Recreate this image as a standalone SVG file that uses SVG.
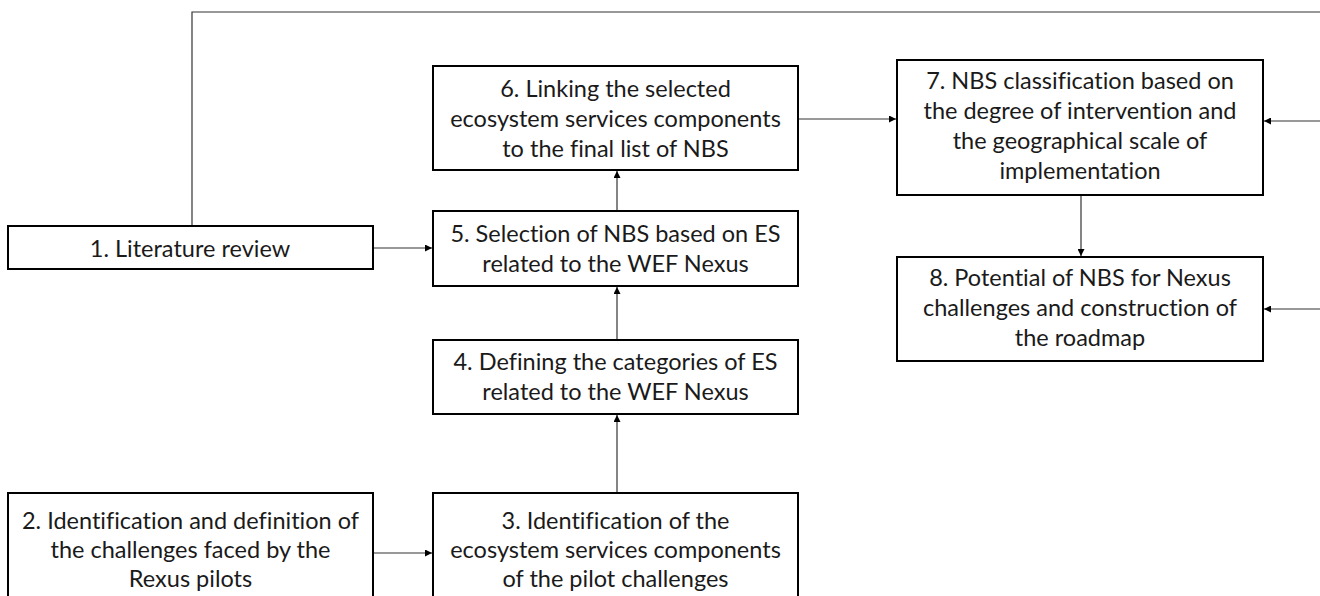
<svg xmlns="http://www.w3.org/2000/svg" width="1320" height="596" viewBox="0 0 1320 596">
  <defs>
    <marker id="arrow" viewBox="0 0 10 10" refX="10" refY="5" markerWidth="8" markerHeight="7" markerUnits="userSpaceOnUse" orient="auto">
      <path d="M0,0 L10,5 L0,10 z" fill="#000"/>
    </marker>
  </defs>
  <style>
    .box { fill: #fff; stroke: #000; stroke-width: 2; }
    .lbl { font-family: Lato, "Liberation Sans", sans-serif; font-size: 23.5px; fill: #1a1a1a; text-anchor: middle; font-variant-ligatures: none; font-feature-settings: "liga" 0; }
    .edge { fill: none; stroke: #333; stroke-width: 1.2; }
    .arr { marker-end: url(#arrow); }
  </style>
  <rect width="1320" height="596" fill="#fff"/>

  <g id="connectors">
    <!-- feedback line from the literature review along the top -->
    <path class="edge" d="M192,226 V12 H1320"/>
    <path class="edge arr" d="M373,248 H432"/>
    <path class="edge arr" d="M373,553 H432"/>
    <path class="edge arr" d="M617,493 V415"/>
    <path class="edge arr" d="M617,340 V287"/>
    <path class="edge arr" d="M617,211 V171"/>
    <path class="edge arr" d="M798,119 H896"/>
    <path class="edge arr" d="M1081,195 V256"/>
    <path class="edge arr" d="M1320,121 H1264"/>
    <path class="edge arr" d="M1320,309 H1264"/>
  </g>

  <g id="node1">
    <rect class="box" x="8" y="226" width="365" height="43"/>
    <text class="lbl" x="190" y="257">1. Literature review</text>
  </g>

  <g id="node2">
    <rect class="box" x="8" y="493" width="365" height="110"/>
    <text class="lbl" x="190.5" y="529">2. Identification and definition of</text>
    <text class="lbl" x="190.5" y="558">the challenges faced by the</text>
    <text class="lbl" x="190.5" y="587">Rexus pilots</text>
  </g>

  <g id="node3">
    <rect class="box" x="433" y="493" width="365" height="110"/>
    <text class="lbl" x="615.5" y="529">3. Identification of the</text>
    <text class="lbl" x="615.5" y="558">ecosystem services components</text>
    <text class="lbl" x="615.5" y="587">of the pilot challenges</text>
  </g>

  <g id="node4">
    <rect class="box" x="433" y="340" width="365" height="74"/>
    <text class="lbl" x="615.5" y="370">4. Defining the categories of ES</text>
    <text class="lbl" x="615.5" y="400">related to the WEF Nexus</text>
  </g>

  <g id="node5">
    <rect class="box" x="433" y="211" width="365" height="75"/>
    <text class="lbl" x="615.5" y="242">5. Selection of NBS based on ES</text>
    <text class="lbl" x="615.5" y="272">related to the WEF Nexus</text>
  </g>

  <g id="node6">
    <rect class="box" x="433" y="66" width="365" height="104"/>
    <text class="lbl" x="615.5" y="97">6. Linking the selected</text>
    <text class="lbl" x="615.5" y="127">ecosystem services components</text>
    <text class="lbl" x="615.5" y="157">to the final list of NBS</text>
  </g>

  <g id="node7">
    <rect class="box" x="897" y="60" width="366" height="135"/>
    <text class="lbl" x="1080" y="89">7. NBS classification based on</text>
    <text class="lbl" x="1080" y="119">the degree of intervention and</text>
    <text class="lbl" x="1080" y="149">the geographical scale of</text>
    <text class="lbl" x="1080" y="179">implementation</text>
  </g>

  <g id="node8">
    <rect class="box" x="897" y="257" width="366" height="104"/>
    <text class="lbl" x="1080" y="286">8. Potential of NBS for Nexus</text>
    <text class="lbl" x="1080" y="316">challenges and construction of</text>
    <text class="lbl" x="1080" y="346">the roadmap</text>
  </g>
</svg>
